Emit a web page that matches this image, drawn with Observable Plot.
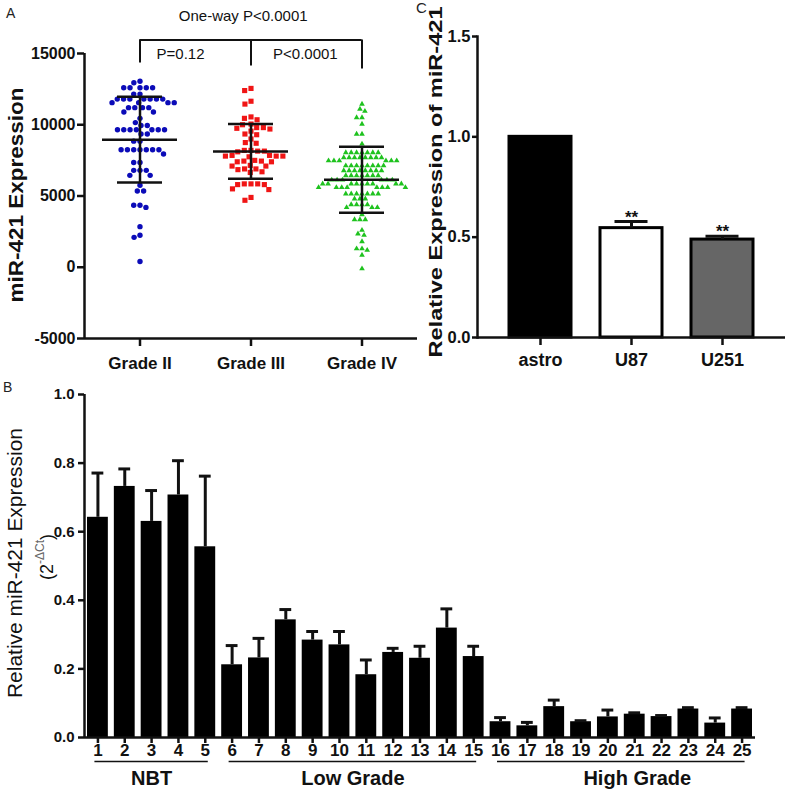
<!DOCTYPE html>
<html><head><meta charset="utf-8">
<script src="https://cdn.jsdelivr.net/npm/d3@7"></script>
<script src="https://cdn.jsdelivr.net/npm/@observablehq/plot@0.6"></script>
<style>
body{margin:0;background:#fff;}
#fig{position:relative;width:800px;height:805px;overflow:hidden;font-family:"Liberation Sans",Arial,sans-serif;background:#fff;}
.panel{position:absolute;}
.letter{position:absolute;font-size:14px;line-height:14px;color:#222;}
</style></head><body>
<div id="fig">
  <div class="panel" id="pA" style="left:0;top:0;width:420px;height:395px"></div>
  <div class="panel" id="pC" style="left:400px;top:0;width:400px;height:395px"></div>
  <div class="panel" id="pB" style="left:0;top:390px;width:800px;height:415px"></div>
  <div class="letter" style="left:6px;top:6px">A</div>
  <div class="letter" style="left:416px;top:1px;font-size:15px">C</div>
  <div class="letter" style="left:3px;top:380px">B</div>
</div>
<script>
const FONT = '"Liberation Sans", Arial, Helvetica, sans-serif';

// ---------- Panel A data ----------
const grades = ["Grade II", "Grade III", "Grade IV"];
const gradeColors = ["#0b0bb8", "#f01515", "#1ec21e"];
const gradeSymbols = ["circle", "square", "triangle"];
const gradeIIValues = [13050, 12950, 12600, 12600, 12600, 12600, 12600, 12150, 12150,
  11800, 11800, 11800, 11800, 11800, 11800, 11800, 11550, 11550, 11550, 11550,
  11200, 11200, 11200, 11200, 10900, 10900, 10450, 10150, 9950, 9950,
  9650, 9650, 9650, 9650, 9650, 9650, 9650, 9350, 9350, 8850, 8850,
  8250, 8250, 8250, 8250, 8250, 8250, 8250, 7950, 7350, 7350, 6800, 6800, 6800,
  6450, 6450, 5750, 5350, 5350, 4350, 4350, 4200, 2850, 2250, 2100, 400];
const gradeIIIValues = [12550, 12400, 11650, 11450, 10550, 10450, 10350, 10050, 10000,
  9800, 9800, 9750, 9700, 9550, 9350, 9300, 9000, 8750, 8700,
  8200, 8200, 8150, 8150, 8100, 7850, 7850, 7800, 7800, 7800, 7750,
  7500, 7450, 7450, 7400, 7400, 7150, 7100, 7100, 6900, 6900, 6850, 6700, 6650,
  5850, 5850, 5850, 5800, 5800, 5500, 5450, 4900, 4700];
const gradeIVValues = [11450, 11100, 10950, 10500, 10500, 10050, 9350, 9350, 8650,
  8050, 8050, 8050, 8050, 8050, 8050, 8050,
  7700, 7700, 7700, 7700, 7700, 7700, 7700, 7700,
  7480, 7480, 7480, 7480, 7480, 7480,
  7130, 7130, 7130, 7130, 7130, 7130, 7130, 7130,
  6780, 6780, 6780, 6780, 6780, 6780, 6780, 6780,
  6430, 6430, 6430, 6430, 6430, 6430, 6430,
  6130, 6130, 6130, 6130, 6130, 6130,
  5850, 5850, 5850, 5850, 5850, 5850, 5850, 5850, 5850,
  5600, 5600, 5600, 5600, 5600, 5600, 5600, 5600,
  5150, 5150, 5150, 5150, 5150, 5150, 5150,
  4800, 4800, 4800, 4400, 4400, 4400, 4400, 4200, 4200, 4200,
  3700, 3350, 3350, 3350, 2600, 2350, 2250, 1800, 1300, 1300, 1200, 850, -100];
const gradeMeans = [8950, 8130, 6140];
const gradeSDs = [3010, 1920, 2320];
const yTicksA = [-5000, 0, 5000, 10000, 15000];
const overallLabel = "One-way P<0.0001";
const pairLabels = ["P=0.12", "P<0.0001"];
const bracketTop = 15950;
const bracketFeet = [14340, 14120, 13920];

// ---------- Panel C data ----------
const cellLines = ["astro", "U87", "U251"];
const cellValues = [1.0, 0.545, 0.488];
const cellErrors = [0, 0.033, 0.017];
const cellFills = ["#000000", "#ffffff", "#666666"];
const cellStars = ["", "**", "**"];
const yTicksC = [0, 0.5, 1.0, 1.5];

// ---------- Panel B data ----------
const sampleIds = [1, 2, 3, 4, 5, 6, 7, 8, 9, 10, 11, 12, 13, 14, 15, 16, 17, 18, 19, 20, 21, 22, 23, 24, 25];
const sampleValues = [0.642, 0.732, 0.630, 0.707, 0.556, 0.212, 0.232, 0.343, 0.284, 0.270,
  0.183, 0.248, 0.231, 0.319, 0.236, 0.046, 0.034, 0.090, 0.046, 0.060, 0.068, 0.061, 0.083, 0.042, 0.083];
const sampleErrors = [0.129, 0.051, 0.090, 0.100, 0.206, 0.056, 0.057, 0.030, 0.025, 0.039,
  0.043, 0.012, 0.035, 0.056, 0.030, 0.012, 0.010, 0.019, 0.003, 0.020, 0.004, 0.003, 0.004, 0.015, 0.004];
const groupNames = ["NBT", "Low Grade", "High Grade"];
const groupStarts = [1, 6, 16];
const groupEnds = [5, 15, 25];
const yTicksB = [0, 0.2, 0.4, 0.6, 0.8, 1.0];

function vLabel(svg, x, y, text, size, weight, length) {
  d3.select(svg).append("text")
    .attr("transform", `translate(${x},${y}) rotate(-90)`)
    .attr("text-anchor", "middle").attr("dominant-baseline", "middle")
    .attr("font-family", FONT).attr("font-size", size).attr("font-weight", weight)
    .attr("fill", "#111")
    .attr("textLength", length).attr("lengthAdjust", "spacingAndGlyphs")
    .text(text);
}

// ---------- Panel A ----------
{
  const dotsII = gradeIIValues.map(v => ({grade: grades[0], value: v}));
  const dotsIII = gradeIIIValues.map(v => ({grade: grades[1], value: v}));
  const dotsIV = gradeIVValues.map(v => ({grade: grades[2], value: v}));
  const summaryA = grades.map((g, i) => ({grade: g, mean: gradeMeans[i], lo: gradeMeans[i] - gradeSDs[i], hi: gradeMeans[i] + gradeSDs[i]}));
  const dropsA = grades.map((g, i) => ({grade: g, foot: bracketFeet[i]}));
  const sw = 2.5;
  const svg = Plot.plot({
    width: 420, height: 395,
    marginLeft: 84, marginRight: 3, marginTop: 53, marginBottom: 57,
    style: {fontFamily: FONT, fontSize: "16px", color: "#111", background: "transparent", overflow: "visible"},
    fx: {domain: grades, padding: 0},
    x: {domain: [0, 1], axis: null},
    y: {domain: [-5000, 15000]},
    color: {domain: grades, range: gradeColors},
    symbol: {domain: grades, range: gradeSymbols},
    marks: [
      Plot.axisY({ticks: yTicksA, tickFormat: d => String(d), tickSize: 7, tickPadding: 2, fontSize: 16, fontWeight: "bold", strokeWidth: sw, label: null}),
      Plot.axisFx({anchor: "bottom", tickSize: 8, tickPadding: 10, fontSize: 17, fontWeight: "bold", strokeWidth: sw, label: null}),
      Plot.ruleY([-5000], {strokeWidth: sw}),
      Plot.ruleX([0], {fx: () => grades[0], y1: -5000, y2: 15000, strokeWidth: sw}),
      Plot.dot(dotsII, Plot.dodgeX({anchor: "middle", padding: 0.9}, {fx: "grade", y: "value", r: 2.7, fill: "grade", symbol: "grade"})),
      Plot.dot(dotsIII, Plot.dodgeX({anchor: "middle", padding: 0.9}, {fx: "grade", y: "value", r: 2.9, fill: "grade", symbol: "grade"})),
      Plot.dot(dotsIV, Plot.dodgeX({anchor: "middle", padding: 1.2}, {fx: "grade", y: "value", r: 2.1, fill: "grade", symbol: "grade"})),
      Plot.ruleX(summaryA, {fx: "grade", x: 0.5, y1: "lo", y2: "hi", strokeWidth: sw}),
      Plot.tickY(summaryA, {fx: "grade", y: "mean", strokeWidth: sw, insetLeft: 18, insetRight: 18}),
      Plot.tickY(summaryA, {fx: "grade", y: "hi", strokeWidth: sw, insetLeft: 33, insetRight: 33}),
      Plot.tickY(summaryA, {fx: "grade", y: "lo", strokeWidth: sw, insetLeft: 33, insetRight: 33}),
      Plot.ruleX(dropsA, {fx: "grade", x: 0.5, y1: "foot", y2: bracketTop, strokeWidth: 2}),
      Plot.ruleY([bracketTop], {fx: () => grades[0], insetLeft: 55.5, strokeWidth: 2}),
      Plot.ruleY([bracketTop], {fx: () => grades[1], strokeWidth: 2}),
      Plot.ruleY([bracketTop], {fx: () => grades[2], insetRight: 55.5, strokeWidth: 2}),
      Plot.text([overallLabel], {fx: () => grades[1], x: 0.43, y: 17620, fontSize: 15}),
      Plot.text([pairLabels[0]], {fx: () => grades[0], x: 0.865, y: 14965, fontSize: 15}),
      Plot.text([pairLabels[1]], {fx: () => grades[1], x: 0.99, y: 14965, fontSize: 15})
    ]
  });
  vLabel(svg, 17, 195, "miR-421 Expression", 21, "bold", 215);
  document.getElementById("pA").append(svg);
}

// ---------- Panel C ----------
{
  const dataC = cellLines.map((c, i) => ({cell: c, value: cellValues[i], err: cellErrors[i], fill: cellFills[i], stars: cellStars[i]}));
  const errC = dataC.filter(d => d.err > 0);
  const sw = 2.5;
  const svg = Plot.plot({
    width: 400, height: 395,
    marginLeft: 77, marginRight: 15, marginTop: 36, marginBottom: 58,
    style: {fontFamily: FONT, fontSize: "16px", color: "#111", background: "transparent", overflow: "visible"},
    x: {domain: cellLines, paddingInner: 0.32, paddingOuter: 0.35},
    y: {domain: [0, 1.5]},
    color: {type: "identity"},
    marks: [
      Plot.axisY({ticks: yTicksC, tickFormat: d3.format(".1f"), tickSize: 5, tickPadding: 2, fontSize: 16.5, fontWeight: "bold", strokeWidth: sw, label: null}),
      Plot.axisX({tickSize: 8, tickPadding: 8, fontSize: 18, fontWeight: "bold", strokeWidth: sw, label: null}),
      Plot.barY(dataC, {x: "cell", y: "value", fill: "fill", stroke: "#000", strokeWidth: 3}),
      Plot.ruleX(errC, {x: "cell", y1: "value", y2: d => d.value + d.err, strokeWidth: 3}),
      Plot.tickY(errC, {x: "cell", y: d => d.value + d.err, strokeWidth: 3, insetLeft: 14.5, insetRight: 14.5}),
      Plot.text(errC, {x: "cell", y: d => d.value + d.err, text: "stars", lineAnchor: "bottom", dy: 1, fontSize: 17, fontWeight: "bold"}),
      Plot.ruleY([0], {strokeWidth: sw}),
      Plot.frame({anchor: "left", strokeWidth: sw})
    ]
  });
  vLabel(svg, 37, 182, "Relative Expression of miR-421", 18, "bold", 351);
  document.getElementById("pC").append(svg);
}

// ---------- Panel B ----------
{
  const dataB = sampleIds.map((id, i) => ({id, value: sampleValues[i], err: sampleErrors[i]}));
  const groups = groupNames.map((g, i) => ({name: g, start: groupStarts[i], end: groupEnds[i]}));
  const sw = 2.5;
  const svg = Plot.plot({
    width: 800, height: 415,
    marginLeft: 84, marginRight: 45, marginTop: 4, marginBottom: 68,
    style: {fontFamily: FONT, fontSize: "16px", color: "#111", background: "transparent", overflow: "visible"},
    x: {domain: [0.5, 25.5]},
    y: {domain: [0, 1]},
    marks: [
      Plot.axisY({ticks: yTicksB, tickFormat: d3.format(".1f"), tickSize: 6, tickPadding: 4, fontSize: 15, fontWeight: "bold", strokeWidth: sw, label: null}),
      Plot.axisX({ticks: sampleIds, tickFormat: d => String(d), tickSize: 6, tickPadding: 0, fontSize: 17, fontWeight: "bold", strokeWidth: sw, label: null}),
      Plot.rectY(dataB, {x1: d => d.id - 0.5, x2: d => d.id + 0.5, y: "value", fill: "#000", insetLeft: 3, insetRight: 3}),
      Plot.ruleX(dataB, {x: "id", y1: "value", y2: d => d.value + d.err, strokeWidth: 3}),
      Plot.ruleY(dataB, {y: d => d.value + d.err, x1: d => d.id - 0.22, x2: d => d.id + 0.22, strokeWidth: 3}),
      Plot.ruleY([0], {strokeWidth: sw}),
      Plot.ruleX([0.5], {y1: 0, y2: 1, strokeWidth: sw}),
      Plot.ruleY(groups, {y: -0.07, x1: "start", x2: "end", insetLeft: -3, insetRight: -3, strokeWidth: 1.6}),
      Plot.text(groups.slice(0, 2), {x: d => (d.start + d.end) / 2, y: -0.12, text: "name", fontSize: 20, fontWeight: "bold"}),
      Plot.text(groups.slice(2), {x: d => (d.start + d.end) / 2, y: -0.12, dx: 16, text: "name", fontSize: 20, fontWeight: "bold"})
    ]
  });
  vLabel(svg, 17, 173, "Relative miR-421 Expression", 20, "normal", 270);
  const t = d3.select(svg).append("text")
    .attr("transform", "translate(48,167) rotate(-90)")
    .attr("text-anchor", "middle").attr("dominant-baseline", "middle")
    .attr("font-family", FONT).attr("font-size", 18).attr("fill", "#111");
  t.append("tspan").text("(2");
  t.append("tspan").attr("dy", -7).attr("font-size", 12).attr("fill", "#666").text("-\u0394Ct");
  t.append("tspan").attr("dy", 7).text(")");
  document.getElementById("pB").append(svg);
}
</script>
</body></html>
